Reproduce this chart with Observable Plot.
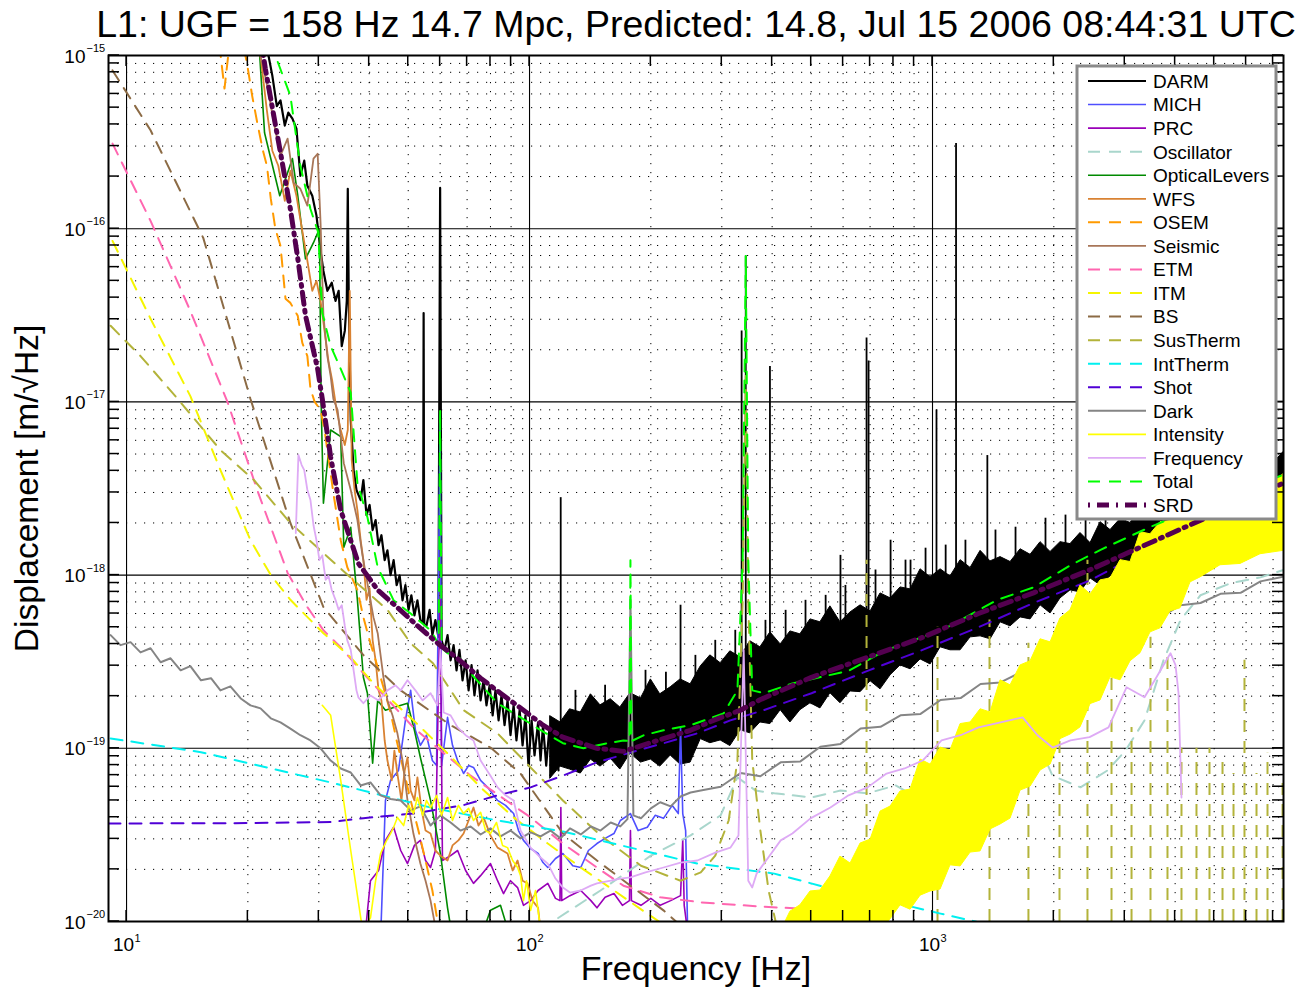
<!DOCTYPE html>
<html>
<head>
<meta charset="utf-8">
<script src="https://cdn.jsdelivr.net/npm/d3@7"></script>
<script src="https://cdn.jsdelivr.net/npm/@observablehq/plot@0.6"></script>
<style>
  html, body { margin: 0; padding: 0; background: #fff; }
  svg { display: block; }
</style>
</head>
<body>
<div id="chart"></div>
<script>
const FONT = "'Liberation Sans', Arial, Helvetica, sans-serif";

// ---- axes -------------------------------------------------------------
const X_DOMAIN = [9.02, 7430];
const Y_DOMAIN = [1e-20, 1e-15];
const X_MAJOR = [10, 100, 1000];
const X_MAJOR_EXP = ["1", "2", "3"];
const X_MINOR = [20, 30, 40, 50, 60, 70, 80, 90, 200, 300, 400, 500, 600, 700, 800, 900,
  2000, 3000, 4000, 5000, 6000, 7000];
const Y_MAJOR = [1e-20, 1e-19, 1e-18, 1e-17, 1e-16, 1e-15];
const Y_MAJOR_EXP = ["\u221220", "\u221219", "\u221218", "\u221217", "\u221216", "\u221215"];
const Y_MINOR = [
  2e-20, 3e-20, 4e-20, 5e-20, 6e-20, 7e-20, 8e-20, 9e-20,
  2e-19, 3e-19, 4e-19, 5e-19, 6e-19, 7e-19, 8e-19, 9e-19,
  2e-18, 3e-18, 4e-18, 5e-18, 6e-18, 7e-18, 8e-18, 9e-18,
  2e-17, 3e-17, 4e-17, 5e-17, 6e-17, 7e-17, 8e-17, 9e-17,
  2e-16, 3e-16, 4e-16, 5e-16, 6e-16, 7e-16, 8e-16, 9e-16];

const TITLE = "L1: UGF = 158 Hz 14.7 Mpc, Predicted: 14.8, Jul 15 2006 08:44:31 UTC";
const X_LABEL = "Frequency [Hz]";
const Y_LABEL = "Displacement [m/\u221AHz]";

const SERIES = ["DARM", "MICH", "PRC", "Oscillator", "OpticalLevers", "WFS", "OSEM", "Seismic",
  "ETM", "ITM", "BS", "SusTherm", "IntTherm", "Shot", "Dark", "Intensity", "Frequency", "Total", "SRD"];

// ---- spectra: [frequency Hz, displacement m/rtHz] ----------------------
// DARM below ~120 Hz as a trace
const DARM_LOW = [[22.2,1.2e-15],[22.5,1.0e-15],[23.0,7.65e-16],[23.6,5.1e-16],[24.1,5.5e-16],[24.7,3.94e-16],
  [25.2,4.68e-16],[25.8,4.32e-16],[26.4,3.78e-16],[27.0,2.02e-16],[27.6,2.47e-16],[28.1,1.77e-16],[28.9,1.55e-16],
  [29.6,1.19e-16],[30.3,7.45e-17],[30.8,5.7e-17],[31.5,4.38e-17],[32.3,4.88e-17],[33.0,3.83e-17],[33.6,4.38e-17],
  [34.2,2.1e-17],[34.8,2.57e-17],[35.2,3.83e-17],[35.4,1.7e-16],[35.6,3.83e-17],[36.0,7.86e-18],[36.6,4.04e-18],
  [37.2,3.1e-18],[38.1,2.71e-18],[38.7,3.54e-18],[39.4,2.22e-18],[40.1,2.54e-18],[40.8,1.82e-18],[41.5,2.08e-18],
  [42.2,1.49e-18],[42.9,1.7e-18],[43.7,1.22e-18],[44.4,1.39e-18],[45.2,1.0e-18],[46.0,1.22e-18],[46.8,8.75e-19],
  [47.6,9.95e-19],[48.4,7.15e-19],[49.2,8.75e-19],[50.1,6.3e-19],[50.9,7.65e-19],[51.8,5.85e-19],[52.7,7.15e-19],
  [53.6,5.5e-19],[54.4,5.3e-19],[54.6,3.26e-17],[54.8,5.2e-19],[55.5,5.1e-19],[56.5,6.3e-19],[57.4,4.5e-19],
  [58.4,5.5e-19],[59.4,4.4e-19],[60.0,1.72e-16],[60.5,4.2e-19],[61.5,3.7e-19],[62.6,4.5e-19],[63.7,3.22e-19],
  [64.8,3.94e-19],[65.9,2.82e-19],[67.0,3.7e-19],[68.2,2.47e-19],[69.4,3.22e-19],[70.6,2.16e-19],[71.8,3.02e-19],
  [73.0,2.02e-19],[74.3,2.82e-19],[75.6,1.89e-19],[76.9,2.47e-19],[78.2,1.77e-19],[79.6,2.31e-19],[81.0,1.55e-19],
  [82.3,2.16e-19],[83.8,1.45e-19],[85.2,2.02e-19],[86.7,1.36e-19],[88.2,1.89e-19],[89.7,1.19e-19],[91.3,1.77e-19],
  [92.8,1.11e-19],[94.5,1.66e-19],[96.1,1.04e-19],[97.7,1.55e-19],[99.4,7.95e-20],[101.2,1.45e-19],[102.9,9.1e-20],
  [105,1.41e-19],[106.5,8.5e-20],[108,1.36e-19],[110,7.95e-20],[112,1.3e-19],[114,8.5e-20],[116,1.27e-19],[118,7.45e-20]];
// DARM above ~110 Hz: [frequency, lower envelope, upper envelope]
const DARM_BAND = [[112.7,6.69e-20,1.53e-19],[119.4,7.84e-20,1.41e-19],[126,7.54e-20,1.68e-19],[134,7.15e-20,1.61e-19],
  [142,8.61e-20,2.05e-19],[150,7.84e-20,1.77e-19],[159,8.72e-20,1.92e-19],[168,7.54e-20,1.72e-19],[178,9.32e-20,2.08e-19],
  [189,8.27e-20,1.94e-19],[200,8.61e-20,2.5e-19],[211,7.84e-20,2.05e-19],[224,9.08e-20,2.25e-19],[237,8.05e-20,2.5e-19],
  [251,8.27e-20,2.34e-19],[266,1.13e-19,2.97e-19],[281,1.07e-19,3.44e-19],[298,1.11e-19,3.1e-19],[315,1.03e-19,3.63e-19],
  [334,1.27e-19,3.35e-19],[353,1.22e-19,4.15e-19],[374,1.41e-19,3.83e-19],[396,1.38e-19,4.67e-19],[420,1.66e-19,3.98e-19],
  [444,1.41e-19,4.73e-19],[470,1.66e-19,4.55e-19],[498,1.82e-19,5.55e-19],[527,1.7e-19,5.34e-19],[558,2.08e-19,6.6e-19],
  [591,1.82e-19,5.34e-19],[626,2.13e-19,6.09e-19],[663,2.11e-19,6.69e-19],[702,2.44e-19,6.17e-19],[743,2.19e-19,7.84e-19],
  [787,2.64e-19,7.34e-19],[833,3.01e-19,8.49e-19],[882,2.86e-19,8.27e-19],[934,3.26e-19,1.08e-18],[989,3.05e-19,9.7e-19],
  [1047,3.83e-19,1.08e-18],[1108,3.68e-19,9.83e-19],[1174,3.68e-19,1.22e-18],[1243,4.37e-19,1.1e-18],[1316,4.43e-19,1.38e-18],
  [1393,4.26e-19,1.2e-18],[1475,5.34e-19,1.27e-18],[1562,5.06e-19,1.19e-18],[1654,5.7e-19,1.41e-18],[1751,5.55e-19,1.31e-18],
  [1854,6.69e-19,1.55e-18],[1963,6.01e-19,1.36e-18],[2078,7.34e-19,1.55e-18],[2200,8.16e-19,1.51e-18],[2329,7.95e-19,1.75e-18],
  [2467,9.57e-19,1.53e-18],[2612,8.72e-19,2.02e-18],[2765,9.83e-19,1.82e-18],[2928,1.08e-18,2.11e-18],[3100,1.01e-18,2.0e-18],
  [3282,1.27e-18,2.44e-18],[3475,1.19e-18,2.4e-18],[3679,1.32e-18,2.78e-18],[3895,1.27e-18,2.54e-18],[4124,1.49e-18,2.9e-18],
  [4367,1.45e-18,2.71e-18],[4624,1.41e-18,3.49e-18],[4896,1.72e-18,3.14e-18],[5184,1.66e-18,3.54e-18],[5489,1.66e-18,3.31e-18],
  [5812,1.82e-18,3.98e-18],[6153,1.7e-18,3.73e-18],[6515,2.05e-18,4.26e-18],[6898,1.92e-18,4.26e-18],[7430,2.05e-18,5.13e-18]];
// DARM lines: [frequency, foot, peak]
const DARM_LINES = [[119.5,1.2e-19,2.8e-18],[237,2.0e-19,6.7e-19],[336,3.0e-19,2.57e-17],[344,3.0e-19,6.95e-17],
  [395,3.5e-19,1.6e-17],[591,5e-19,1.3e-18],[686,5.5e-19,2.34e-17],[694,5.5e-19,1.72e-17],[787,7e-19,1.59e-18],
  [882,8e-19,1.22e-18],[1023,9e-19,8.98e-18],[1144,1e-18,3.1e-16],[1368,1.1e-18,4.9e-18],
  [130,1.2e-19,2.16e-19],[154,1.4e-19,2.31e-19],[194,1.6e-19,2.82e-19],[218,1.7e-19,2.75e-19],[258,2.0e-19,3.44e-19],
  [289,2.4e-19,4.2e-19],[324,2.7e-19,4.8e-19],[385,3.0e-19,5.48e-19],[432,3.5e-19,6.26e-19],[484,3.9e-19,7.15e-19],
  [543,4.3e-19,7.64e-19],[608,4.8e-19,8.72e-19],[722,5.5e-19,1.07e-18],[857,6.5e-19,1.22e-18],[961,8e-19,1.43e-18],
  [1078,8.5e-19,1.49e-18],[1207,9e-19,1.59e-18],[1433,1.0e-18,1.82e-18],[1607,1.1e-18,1.89e-18],[1907,1.2e-18,2.13e-18],
  [2138,1.3e-18,2.22e-18],[2398,1.4e-18,2.54e-18],[2688,1.6e-18,2.78e-18]];

const MICH = [[42.7,8e-21],[43.9,5.0e-20],[45.2,6.53e-20],[47.3,7.45e-20],[49.2,1.45e-19],[50.7,2.16e-19],[52.1,1.27e-19],
  [53.6,1.04e-19],[55.5,1.19e-19],[57.4,8.5e-20],[58.8,7.95e-20],[60.0,8.4e-18],[60.5,7.95e-20],[62.6,1.51e-19],
  [64.4,1.04e-19],[66.3,8.5e-20],[68.6,7.15e-20],[70.6,7.95e-20],[72.6,7.75e-20],[75.6,6.53e-20],[78.7,5.95e-20],
  [83.3,5.0e-20],[87.2,4.68e-20],[91.3,4.2e-20],[93.9,3.35e-20],[96.6,2.94e-20],[100.6,2.64e-20],[105,2.47e-20],
  [108,2.19e-20],[111,2.05e-20],[116,2.31e-20],[121,2.47e-20],[128,2.1e-20],[134,2.05e-20],[140,2.57e-20],[147,2.82e-20],
  [154,3.02e-20],[162,3.22e-20],[168,3.83e-20],[178,4.2e-20],[186,3.35e-20],[196,3.5e-20],[205,4.1e-20],[215,3.94e-20],
  [226,4.68e-20],[234,4.2e-20],[237,1.32e-19],[240,4.2e-20],[244,3.35e-20],[247,8e-21]];

const PRC = [[39.2,9e-21],[40.3,1.72e-20],[42.2,1.97e-20],[43.9,2.94e-20],[46.0,3.5e-20],[47.9,2.57e-20],[49.8,2.16e-20],
  [51.8,2.75e-20],[53.6,2.94e-20],[55.2,2.25e-20],[56.8,2.05e-20],[58.4,2.57e-20],[60.0,7.2e-19],[60.8,2.25e-20],
  [63.7,2.4e-20],[66.3,2.57e-20],[69.4,1.97e-20],[72.6,1.66e-20],[75.6,1.84e-20],[80.0,2.16e-20],[83.3,1.72e-20],
  [86.2,1.45e-20],[89.7,1.72e-20],[93.4,1.57e-20],[96.6,1.24e-20],[100.6,1.32e-20],[105,1.51e-20],[111,1.66e-20],
  [116,1.36e-20],[119,1.32e-20],[119.6,4.55e-20],[120.2,1.32e-20],[126,1.41e-20],[134,1.51e-20],[142,1.32e-20],
  [147,1.2e-20],[154,1.38e-20],[162,1.45e-20],[170,1.24e-20],[177,1.32e-20],[178,3.35e-20],[179,1.32e-20],[189,1.24e-20],
  [200,1.36e-20],[211,1.24e-20],[224,1.32e-20],[237,1.41e-20],[240,2.94e-20],[242,1.24e-20],[248,8e-21]];

const OSCILLATOR = [[106.5,9e-21],[150,1.51e-20],[200,2.4e-20],[251,3.14e-20],[298,4.1e-20],[328,6.8e-20],[364,5.7e-20],
  [405,5.5e-20],[501,5.2e-20],[591,5.7e-20],[690,5.5e-20],[810,6.1e-20],[945,5.0e-20],[1108,6.53e-20],[1279,9.7e-20],
  [1544,1.45e-19],[1781,1.22e-19],[1985,6.95e-20],[2329,5.95e-20],[2718,7.45e-20],[3012,9.7e-20],[3358,1.45e-19],
  [3743,3.22e-19],[4124,5.5e-19],[4624,7.65e-19],[5489,8.98e-19],[6515,9.7e-19],[7430,1.07e-18]];

const OPTICAL_LEVERS = [[21.3,1.2e-15],[22.0,3.58e-16],[24.0,1.55e-16],[25.8,2.54e-16],[26.6,1.55e-16],[27.8,6.7e-17],
  [29.1,8.3e-17],[30.1,1.0e-16],[30.4,1.0e-17],[30.8,2.6e-18],[32.1,6.88e-18],[34.0,6.3e-18],[34.6,1.45e-18],[36.0,1.89e-18],
  [37.4,7.2e-19],[38.7,2.57e-19],[39.6,2.08e-19],[40.8,8.2e-20],[42.0,1.89e-19],[43.9,1.66e-19],[46.0,1.72e-19],
  [49.8,1.82e-19],[51.8,1.27e-19],[53.6,8.85e-20],[56.8,5.0e-20],[60.1,2.47e-20],[62.6,1.2e-20],[64.4,8e-21],
  [75.6,8e-21],[80.0,1.16e-20],[84.7,1.24e-20],[89.7,8e-21]];

const WFS = [[21.3,1.2e-15],[22.3,4.8e-16],[23.0,2.82e-16],[23.8,2.31e-16],[24.7,1.45e-16],[25.5,2.16e-16],[26.4,1.55e-16],
  [27.3,9.7e-17],[28.1,6.53e-17],[28.9,4.38e-17],[29.6,5.0e-17],[30.3,3.83e-17],[31.0,2.57e-17],[31.7,1.72e-17],
  [32.4,1.32e-17],[33.2,8.98e-18],[34.0,6.88e-18],[34.8,5.64e-18],[35.4,6.88e-18],[35.8,4.38e-17],[36.2,4.62e-18],
  [36.8,3.1e-18],[37.4,2.37e-18],[38.1,1.59e-18],[38.7,1.22e-18],[39.4,7.2e-19],[40.1,8.4e-19],[40.8,4.2e-19],
  [41.5,3.22e-19],[42.2,2.16e-19],[42.9,1.89e-19],[43.7,1.11e-19],[44.4,8.5e-20],[45.5,6.53e-20],[46.2,9.7e-20],
  [47.0,7.15e-20],[48.1,5.0e-20],[49.0,7.45e-20],[49.8,8.85e-20],[50.7,5.7e-20],[51.8,5.0e-20],[52.7,6.8e-20],
  [54.0,4.38e-20],[55.2,3.35e-20],[56.8,3.22e-20],[58.4,2.57e-20],[60.1,2.4e-20],[62.6,2.25e-20],[64.4,2.75e-20],
  [66.6,2.94e-20],[68.6,3.22e-20],[70.6,3.83e-20],[72.6,4.55e-20],[74.7,3.58e-20],[76.9,3.99e-20],[80.0,3.14e-20],
  [83.3,2.67e-20],[85.7,2.57e-20],[88.2,2.47e-20],[90.8,1.97e-20],[93.4,2.25e-20],[96.1,1.72e-20],[98.9,1.66e-20],
  [101.7,1.32e-20],[105,1.2e-20],[107,8e-21]];

const OSEM = [[17.0,1.15e-15],[17.5,6.44e-16],[18.0,1.15e-15],[19.5,1.15e-15],[20.0,8.4e-16],[20.5,5.85e-16],[21.1,4.1e-16],
  [21.8,2.82e-16],[22.3,2.31e-16],[22.8,1.49e-16],[23.4,1.0e-16],[24.1,7.95e-17],[24.8,3.94e-17],[25.5,3.73e-17],
  [26.6,3.14e-17],[27.3,2.19e-17],[28.1,1.84e-17],[28.6,1.19e-17],[29.3,1.0e-17],[30.3,8.98e-18],[31.0,6.88e-18],
  [31.5,5.27e-18],[32.6,2.98e-18],[34.0,1.59e-18],[35.3,1.11e-18],[37.4,8.2e-19],[38.7,5.7e-19],[40.3,4.04e-19],
  [42.0,2.94e-19],[43.4,2.25e-19],[45.2,1.61e-19],[46.8,1.11e-19],[48.4,7.95e-20],[50.7,5.0e-20],[53.0,3.35e-20],
  [55.2,2.25e-20],[57.4,1.51e-20],[60.1,8e-21]];

const SEISMIC = [[21.0,1.2e-15],[21.8,8.75e-16],[22.4,6.44e-16],[23.2,4.1e-16],[24.1,2.64e-16],[25.1,3.31e-16],[26.0,1.84e-16],
  [27.0,1.7e-16],[28.1,1.36e-16],[29.1,2.54e-16],[29.8,2.71e-16],[30.3,1.08e-16],[30.8,3.14e-17],[31.5,1.84e-17],
  [32.1,1.41e-17],[32.6,1.04e-17],[33.4,8.98e-18],[34.6,4.43e-18],[36.0,3.1e-18],[37.4,2.08e-18],[38.5,1.3e-18],
  [39.6,8.98e-19],[41.0,5.7e-19],[42.0,4.62e-19],[43.4,2.57e-19],[44.4,1.89e-19],[45.7,1.55e-19],[47.0,1.22e-19],
  [48.4,8.5e-20],[49.8,5.0e-20],[51.5,3.22e-20],[53.6,2.16e-20],[55.2,1.72e-20],[56.8,1.32e-20],[59.1,8e-21]];

const ETM = [[9.23,3.1e-16],[11.47,1.11e-16],[14.4,3.35e-17],[17.8,1.0e-17],[21.1,3.1e-18],[25.1,1.03e-18],[28.1,6.53e-19],
  [30.8,4.8e-19],[34.0,3.83e-19],[38.7,2.71e-19],[51.5,1.32e-19],[71.4,6.95e-20],[100.6,3.99e-20],[121,2.82e-20],
  [147,2.05e-20],[171,1.61e-20],[211,1.38e-20],[266,1.29e-20],[374,1.22e-20],[527,1.17e-20],[663,1.14e-20],[787,9e-21]];

const ITM = [[9.23,8.5e-17],[11.47,3.02e-17],[14.4,1.08e-17],[17.1,4.04e-18],[20.3,1.59e-18],[22.8,1.0e-18],[25.5,7.2e-19],
  [30.8,4.62e-19],[36.0,3.35e-19],[41.0,2.37e-19],[51.5,1.45e-19],[62.6,9.35e-20],[75.6,5.95e-20],[91.3,3.99e-20],
  [111,2.82e-20],[134,2.05e-20],[162,1.51e-20],[196,1.11e-20],[224,9e-21]];

const BS = [[9.23,8.2e-16],[11.47,3.7e-16],[15.5,8.85e-17],[20.3,1.04e-17],[25.5,2.0e-18],[30.8,6.53e-19],[38.7,3.45e-19],
  [47.9,2.16e-19],[63.7,1.36e-19],[80.0,1.01e-19],[95.0,7.15e-20],[121,3.22e-20],[147,2.25e-20],[178,1.61e-20],
  [215,1.16e-20],[231,1.0e-20],[244,9e-21]];

const SUSTHERM = [[9.13,2.75e-17],[10.83,1.84e-17],[13.4,1.04e-17],[17.1,5.27e-18],[20.7,3.54e-18],[25.5,2.0e-18],
  [30.8,1.34e-18],[36.6,9.35e-19],[44.4,6.3e-19],[50.7,4.04e-19],[57.6,3.1e-19],[68.6,1.66e-19],[83.3,1.22e-19],
  [100.6,7.75e-20],[121,5.0e-20],[150,3.14e-20],[189,2.1e-20],[237,1.72e-20],[266,1.92e-20],[289,2.4e-20],[312,3.83e-20],
  [328,8.5e-20],[338,7.2e-19],[344,1.41e-17],[349,7.2e-19],[357,8.5e-20],[374,3.35e-20],[392,1.51e-20],[408,1.0e-20],
  [420,5e-21]];
// violin-mode resonances of the suspension thermal noise: [frequency, peak]
const SUSTHERM_LINES = [[686,1.22e-18],[1029,5.0e-19],[1385,5.5e-19],[1730,4.04e-19],[2066,3.54e-19],[2424,1.22e-18],
  [2781,3.54e-19],[3118,1.32e-19],[3475,4.37e-19],[3829,3.54e-19],[4148,1.0e-19],[4519,1.0e-19],[4868,1.0e-19],
  [5244,8.5e-20],[5584,7.15e-20],[5945,3.22e-19],[6368,7.15e-20],[6781,9.35e-20],[7390,6.53e-20]];

const INTTHERM = [[9.13,1.14e-19],[15.3,9.5e-20],[32.1,6.35e-20],[56.8,4.55e-20],[83.3,3.83e-20],[121,3.31e-20],
  [178,2.67e-20],[261,2.16e-20],[405,1.89e-20],[558,1.55e-20],[769,1.32e-20],[1047,1.11e-20],[1279,1.0e-20],[1475,9e-21]];

const SHOT = [[9.02,3.68e-20],[20,3.7e-20],[32.1,3.75e-20],[38.7,3.95e-20],[51.5,4.2e-20],[68.6,4.7e-20],[83.3,5.35e-20],
  [100.6,5.95e-20],[121,6.95e-20],[147,8.3e-20],[178,9.45e-20],[215,1.07e-19],[261,1.22e-19],[315,1.45e-19],[381,1.66e-19],
  [501,2.08e-19],[690,2.8e-19],[945,3.7e-19],[1301,5.0e-19],[1781,6.9e-19],[2453,9.3e-19],[3065,1.22e-18],[7430,2.82e-18]];

const DARK = [[9.13,4.5e-19],[9.66,3.94e-19],[10.23,4.1e-19],[10.83,3.58e-19],[11.47,3.78e-19],[12.15,3.14e-19],
  [12.86,3.31e-19],[13.62,2.82e-19],[14.4,2.98e-19],[15.3,2.47e-19],[16.2,2.54e-19],[17.1,2.16e-19],[18.1,2.28e-19],
  [19.2,1.94e-19],[20.3,1.77e-19],[21.5,1.70e-19],[22.8,1.49e-19],[24.1,1.41e-19],[25.5,1.30e-19],[27.0,1.19e-19],
  [28.6,1.11e-19],[30.3,1.0e-19],[32.1,8.5e-20],[34.0,7.65e-20],[36.0,7.25e-20],[38.1,6.1e-20],[40.3,6.35e-20],
  [42.7,5.35e-20],[45.2,5.1e-20],[47.9,5.0e-20],[50.7,4.38e-20],[53.6,4.62e-20],[56.8,3.58e-20],[60.1,4.1e-20],
  [63.7,3.73e-20],[67.4,3.35e-20],[71.4,3.54e-20],[75.6,3.18e-20],[80.0,3.45e-20],[84.7,3.10e-20],[89.7,3.35e-20],
  [95.0,3.02e-20],[100.6,3.27e-20],[106.5,3.10e-20],[112.7,3.35e-20],[119.4,3.02e-20],[126,3.45e-20],[134,3.18e-20],
  [142,3.54e-20],[150,3.35e-20],[159,3.73e-20],[168,3.54e-20],[175,3.9e-20],[178,7.2e-19],[181,4.1e-20],[189,3.94e-20],
  [200,4.5e-20],[211,4.88e-20],[224,4.62e-20],[237,5.27e-20],[251,5.56e-20],[266,5.7e-20],[298,6.0e-20],[334,7.2e-20],
  [374,6.9e-20],[420,8.3e-20],[470,8.4e-20],[527,1.02e-19],[591,1.06e-19],[663,1.3e-19],[743,1.33e-19],[833,1.55e-19],
  [934,1.58e-19],[1047,1.9e-19],[1174,1.95e-19],[1316,2.35e-19],[1475,2.4e-19],[1654,2.75e-19],[1854,2.8e-19],
  [2078,3.35e-19],[2329,3.5e-19],[2612,4.35e-19],[2928,4.6e-19],[3282,5.4e-19],[3679,5.7e-19],[4124,6.7e-19],
  [4624,6.9e-19],[5184,7.8e-19],[5812,7.9e-19],[6515,9.2e-19],[7430,9.8e-19]];

const INTENSITY = [[30.6,1.77e-19],[32.1,1.55e-19],[34.0,6.53e-20],[36.0,2.57e-20],[38.5,9e-21],[40.3,1.05e-20],
  [41.5,1.72e-20],[42.7,2.47e-20],[44.2,2.94e-20],[45.2,3.22e-20],[46.0,3.5e-20],[47.0,3.99e-20],[48.7,3.58e-20],
  [50.1,4.68e-20],[51.5,4.2e-20],[52.7,5.2e-20],[54.3,4.1e-20],[55.5,5.0e-20],[56.8,4.55e-20],[58.8,5.35e-20],
  [60.5,4.1e-20],[62.6,5.2e-20],[64.4,3.83e-20],[66.6,4.68e-20],[68.6,4.2e-20],[70.6,4.5e-20],[72.6,3.83e-20],
  [75.6,4.27e-20],[77.8,3.35e-20],[80.0,3.22e-20],[82.8,3.73e-20],[85.7,2.75e-20],[88.2,2.67e-20],[90.8,2.25e-20],
  [93.4,2.05e-20],[95.0,1.84e-20],[96.6,1.32e-20],[98.3,1.72e-20],[100.6,1.16e-20],[103.5,1.51e-20],[106.5,9e-21]];
// intensity noise above ~400 Hz: [frequency, lower envelope, upper envelope]
const INTENSITY_BAND = [[432,9e-21,1.0e-20],[444,9e-21,1.14e-20],[470,9e-21,1.24e-20],[498,9e-21,1.49e-20],
  [527,9e-21,1.51e-20],[558,9e-21,1.82e-20],[591,9e-21,2.37e-20],[626,9e-21,2.16e-20],[663,9e-21,2.82e-20],
  [702,9e-21,2.97e-20],[743,9e-21,4.31e-20],[787,1.03e-20,4.61e-20],[833,1.24e-20,5.63e-20],[882,1.17e-20,5.78e-20],
  [934,1.41e-20,8.61e-20],[989,1.49e-20,8.05e-20],[1047,1.53e-20,1.01e-19],[1108,2.11e-20,9.7e-20],[1174,2.08e-20,1.38e-19],
  [1243,2.5e-20,1.41e-19],[1316,2.54e-20,1.68e-19],[1393,3.4e-20,1.61e-19],[1475,3.63e-20,2.47e-19],[1562,3.93e-20,2.31e-19],
  [1654,5.7e-20,3.01e-19],[1751,6.01e-20,3.18e-19],[1854,7.44e-20,4.26e-19],[1963,8.05e-20,4.09e-19],[2078,1.13e-19,5.63e-19],
  [2200,1.2e-19,6.26e-19],[2329,1.32e-19,8.72e-19],[2467,1.8e-19,7.74e-19],[2612,1.89e-19,9.32e-19],[2765,2.57e-19,9.57e-19],
  [2928,2.47e-19,1.22e-18],[3100,3.18e-19,1.19e-18],[3282,3.54e-19,1.77e-18],[3475,4.67e-19,1.72e-18],[3679,4.93e-19,2.02e-18],
  [3895,6.17e-19,2.05e-18],[4124,6.43e-19,2.5e-18],[4367,9.08e-19,2.37e-18],[4624,9.7e-19,2.67e-18],[5184,1.14e-18,2.54e-18],
  [5812,1.16e-18,3.1e-18],[6515,1.32e-18,2.9e-18],[7430,1.38e-18,3.83e-18]];

const FREQUENCY = [[26.3,1.75e-18],[26.7,4.94e-18],[27.2,4.32e-18],[27.6,4.04e-18],[28.1,3.1e-18],[28.6,2.71e-18],
  [29.1,1.94e-18],[29.6,1.59e-18],[30.1,1.22e-18],[30.6,1.3e-18],[31.2,9.4e-19],[31.7,9.9e-19],[32.3,8.2e-19],[33.0,7.2e-19],
  [33.6,6.3e-19],[34.2,6.7e-19],[34.8,5.1e-19],[35.3,4.2e-19],[36.0,3.7e-19],[36.6,2.82e-19],[37.2,2.16e-19],[37.6,1.97e-19],
  [38.7,1.82e-19],[40.3,2.02e-19],[42.2,1.89e-19],[44.4,2.16e-19],[46.5,2.31e-19],[47.9,2.16e-19],[49.8,2.47e-19],
  [52.1,2.16e-19],[54.3,1.89e-19],[56.8,2.08e-19],[59.1,1.77e-19],[60.1,3.7e-19],[61.2,1.61e-19],[63.7,1.55e-19],
  [66.3,1.32e-19],[69.4,1.19e-19],[72.6,1.11e-19],[75.6,8.5e-20],[80.0,6.95e-20],[83.3,5.95e-20],[87.2,5.35e-20],
  [91.3,5.0e-20],[95.0,3.35e-20],[100.6,2.67e-20],[106.5,2.34e-20],[111,2.16e-20],[116,1.77e-20],[121,1.57e-20],
  [126,1.47e-20],[134,1.51e-20],[142,1.61e-20],[147,1.66e-20],[159,1.72e-20],[168,1.77e-20],[178,1.8e-20],[194,1.92e-20],
  [215,2.05e-20],[237,2.19e-20],[261,2.25e-20],[289,2.5e-20],[315,2.67e-20],[330,3.14e-20],[340,3.7e-19],[349,1.72e-20],
  [357,1.57e-20],[366,1.89e-20],[420,2.94e-20],[449,3.22e-20],[498,3.94e-20],[558,4.55e-20],[619,5.35e-20],[690,5.95e-20],
  [769,7.15e-20],[852,7.65e-20],[945,8.5e-20],[1053,1.11e-19],[1174,1.19e-19],[1301,1.32e-19],[1475,1.41e-19],
  [1673,1.51e-19],[1822,1.19e-19],[1985,1.01e-19],[2200,1.11e-19],[2453,1.16e-19],[2734,1.32e-19],[3030,2.25e-19],
  [3358,1.97e-19],[3595,2.57e-19],[3895,3.54e-19],[4009,3.02e-19],[4078,2.08e-19],[4148,5.2e-20]];

const TOTAL = [[23.0,1.2e-15],[23.4,1.0e-15],[25.5,5.85e-16],[27.0,2.3e-16],[28.6,1.3e-16],[29.9,9.5e-17],[30.6,3.26e-17],
  [32.1,2.1e-17],[34.0,1.55e-17],[36.0,1.13e-17],[37.4,3.4e-18],[39.6,2.16e-18],[42.0,1.11e-18],[46.0,7.15e-19],
  [50.7,6.0e-19],[56.8,4.8e-19],[59.5,4.0e-19],[60.0,9e-18],[60.5,3.8e-19],[62.6,3.54e-19],[66.3,3.45e-19],[71.4,2.71e-19],
  [83.3,1.82e-19],[95.0,1.51e-19],[105,1.3e-19],[121,1.07e-19],[136,1.0e-19],[156,1.07e-19],[171,1.11e-19],[177,1.1e-19],
  [178,1.22e-18],[179,1.1e-19],[192,1.19e-19],[215,1.27e-19],[251,1.36e-19],[303,1.59e-19],[328,2.16e-19],[338,1.22e-18],
  [344,6.95e-17],[349,1.22e-18],[357,2.16e-19],[381,2.08e-19],[449,2.37e-19],[619,2.8e-19],[769,3.7e-19],[1053,4.8e-19],
  [1450,7.2e-19],[1781,8.5e-19],[2200,1.14e-18],[2612,1.4e-18],[3475,1.9e-18],[4624,2.5e-18],[7430,3.8e-18]];

const SRD = [[21.5,1.3e-15],[22.1,8.4e-16],[23.4,4.0e-16],[24.1,2.75e-16],[25.5,1.3e-16],[26.7,6.35e-17],[27.8,3.15e-17],
  [29.8,1.55e-17],[30.6,1.04e-17],[32.1,4.8e-18],[34.0,2.37e-18],[37.6,1.17e-18],[42.0,8.2e-19],[47.0,6.5e-19],
  [52.7,5.1e-19],[59.5,4.0e-19],[66.3,3.3e-19],[75.6,2.54e-19],[84.7,2.08e-19],[96.6,1.66e-19],[108,1.36e-19],
  [121,1.16e-19],[147,1.0e-19],[171,9.6e-20],[208,1.11e-19],[251,1.27e-19],[286,1.45e-19],[334,1.66e-19],[372,1.9e-19],
  [501,2.57e-19],[690,3.35e-19],[945,4.37e-19],[1301,6.0e-19],[1781,7.9e-19],[2453,1.07e-18],[7430,3.4e-18]];

// ---- styles -----------------------------------------------------------
const DASH = "12,9";
const styles = {
  DARM:          {stroke: "#000000", width: 2.2},
  MICH:          {stroke: "#4f4fff", width: 1.6},
  PRC:           {stroke: "#9a00b8", width: 1.6},
  Oscillator:    {stroke: "#a9d6cc", width: 2, dash: DASH},
  OpticalLevers: {stroke: "#008a00", width: 1.6},
  WFS:           {stroke: "#d98232", width: 1.8},
  OSEM:          {stroke: "#ff9a00", width: 2, dash: DASH},
  Seismic:       {stroke: "#a87658", width: 1.8},
  ETM:           {stroke: "#ff66b0", width: 2, dash: DASH},
  ITM:           {stroke: "#f5f500", width: 2, dash: DASH},
  BS:            {stroke: "#8c6b45", width: 2, dash: DASH},
  SusTherm:      {stroke: "#b3b33a", width: 2, dash: DASH},
  IntTherm:      {stroke: "#00f0f0", width: 2, dash: DASH},
  Shot:          {stroke: "#5000d6", width: 2, dash: DASH},
  Dark:          {stroke: "#858585", width: 2},
  Intensity:     {stroke: "#ffff00", width: 1.6},
  Frequency:     {stroke: "#deaaf5", width: 1.8},
  Total:         {stroke: "#00ff00", width: 2, dash: DASH},
  SRD:           {stroke: "#540050", width: 5, dash: "12,6,2,6", legendDash: "2,7,12,7"}
};

const curve = (data, name) => Plot.line(data, {
  x: d => d[0], y: d => d[1],
  stroke: styles[name].stroke, strokeWidth: styles[name].width,
  strokeDasharray: styles[name].dash, strokeLinejoin: "round", clip: true
});

const plot = Plot.plot({
  width: 1313,
  height: 988,
  marginLeft: 108,
  marginRight: 30,
  marginTop: 55,
  marginBottom: 67,
  style: {fontFamily: FONT, background: "#fff", color: "#000"},
  x: {type: "log", domain: X_DOMAIN, axis: null},
  y: {type: "log", domain: Y_DOMAIN, axis: null},
  marks: [
    // grid
    Plot.ruleY(Y_MINOR, {stroke: "#000", strokeWidth: 1, strokeDasharray: "1.2,7.8"}),
    Plot.ruleX(X_MINOR, {stroke: "#000", strokeWidth: 1, strokeDasharray: "1.2,7.8"}),
    Plot.ruleY(Y_MAJOR, {stroke: "#000", strokeWidth: 1.1}),
    Plot.ruleX(X_MAJOR, {stroke: "#000", strokeWidth: 1.1}),

    // DARM
    Plot.areaY(DARM_BAND, {x: d => d[0], y1: d => d[1], y2: d => d[2], fill: "#000", stroke: "#000",
      strokeWidth: 1, clip: true}),
    curve(DARM_LOW, "DARM"),
    Plot.ruleX(DARM_LINES, {x: d => d[0], y1: d => d[1], y2: d => d[2], stroke: "#000", strokeWidth: 1.8, clip: true}),

    curve(MICH, "MICH"),
    curve(PRC, "PRC"),
    curve(OSCILLATOR, "Oscillator"),
    curve(OPTICAL_LEVERS, "OpticalLevers"),
    curve(WFS, "WFS"),
    curve(OSEM, "OSEM"),
    curve(SEISMIC, "Seismic"),
    curve(ETM, "ETM"),
    curve(ITM, "ITM"),
    curve(BS, "BS"),
    curve(SUSTHERM, "SusTherm"),
    Plot.ruleX(SUSTHERM_LINES, {x: d => d[0], y1: () => Y_DOMAIN[0], y2: d => d[1],
      stroke: styles.SusTherm.stroke, strokeWidth: 2, strokeDasharray: DASH, clip: true}),
    curve(INTTHERM, "IntTherm"),
    curve(SHOT, "Shot"),
    curve(DARK, "Dark"),
    curve(INTENSITY, "Intensity"),
    Plot.areaY(INTENSITY_BAND, {x: d => d[0], y1: d => d[1], y2: d => d[2], fill: styles.Intensity.stroke,
      stroke: styles.Intensity.stroke, strokeWidth: 1, clip: true}),
    curve(FREQUENCY, "Frequency"),
    curve(TOTAL, "Total"),
    curve(SRD, "SRD"),

    Plot.frame({stroke: "#000", strokeWidth: 2}),

    // tick labels: 10 with a raised exponent
    Plot.text(X_MAJOR, {x: d => d, text: () => "10", frameAnchor: "bottom", lineAnchor: "middle", dy: 23, dx: -3,
      fontSize: 19, fontFamily: FONT, textAnchor: "middle"}),
    Plot.text(X_MAJOR, {x: d => d, text: (d, i) => X_MAJOR_EXP[i], frameAnchor: "bottom", lineAnchor: "middle",
      dy: 17, dx: 8, fontSize: 11, fontFamily: FONT, textAnchor: "start"}),
    Plot.text(Y_MAJOR, {y: d => d, text: () => "10", frameAnchor: "left", lineAnchor: "middle", dx: -23, dy: 1,
      fontSize: 19, fontFamily: FONT, textAnchor: "end"}),
    Plot.text(Y_MAJOR, {y: d => d, text: (d, i) => Y_MAJOR_EXP[i], frameAnchor: "left", lineAnchor: "middle",
      dx: -22, dy: -7, fontSize: 11, fontFamily: FONT, textAnchor: "start"}),

    // title and axis labels
    Plot.text([TITLE], {text: d => d, frameAnchor: "top", lineAnchor: "middle", textAnchor: "middle", dy: -31,
      fontSize: 37.5, fontFamily: FONT}),
    Plot.text([X_LABEL], {text: d => d, frameAnchor: "bottom", lineAnchor: "middle", textAnchor: "middle", dy: 48,
      fontSize: 34, fontFamily: FONT}),
    Plot.text([Y_LABEL], {text: d => d, frameAnchor: "left", lineAnchor: "middle", textAnchor: "middle", rotate: -90,
      dx: -81, fontSize: 33.5, fontFamily: FONT})
  ]
});

document.getElementById("chart").append(plot);

// ---- inward tick marks on all four sides --------------------------------
const xScale = plot.scale("x"), yScale = plot.scale("y");
const px = v => xScale.apply(v), py = v => yScale.apply(v);
const frameL = px(X_DOMAIN[0]), frameR = px(X_DOMAIN[1]);
const frameB = py(Y_DOMAIN[0]), frameT = py(Y_DOMAIN[1]);
const TICK = 11;
const svgSel = d3.select(plot);
const tickGroup = svgSel.append("g").attr("stroke", "#000").attr("stroke-width", 1.5);
for (const v of [...Y_MAJOR, ...Y_MINOR]) {
  const y = py(v);
  tickGroup.append("line").attr("x1", frameL).attr("x2", frameL + TICK).attr("y1", y).attr("y2", y);
  tickGroup.append("line").attr("x1", frameR - TICK).attr("x2", frameR).attr("y1", y).attr("y2", y);
}
for (const v of [...X_MAJOR, ...X_MINOR]) {
  const x = px(v);
  tickGroup.append("line").attr("x1", x).attr("x2", x).attr("y1", frameB).attr("y2", frameB - TICK);
  tickGroup.append("line").attr("x1", x).attr("x2", x).attr("y1", frameT).attr("y2", frameT + TICK);
}

// ---- legend -------------------------------------------------------------
const legendGroup = svgSel.append("g").attr("font-family", FONT).attr("font-size", 19)
  .attr("text-anchor", "start");
legendGroup.append("rect")
  .attr("x", 1077).attr("y", 66).attr("width", 199).attr("height", 453)
  .attr("fill", "#fff").attr("stroke", "#8a8a8a").attr("stroke-width", 3);
SERIES.forEach((name, i) => {
  const s = styles[name];
  const y = 81 + i * 23.56;
  legendGroup.append("line")
    .attr("x1", 1088).attr("x2", 1146).attr("y1", y).attr("y2", y)
    .attr("stroke", s.stroke)
    .attr("stroke-width", name === "SRD" ? 5 : Math.min(2, Math.max(1.6, s.width)))
    .attr("stroke-dasharray", s.legendDash || s.dash || null);
  legendGroup.append("text")
    .attr("x", 1153).attr("y", y).attr("dy", "0.36em")
    .attr("text-anchor", "start")
    .attr("fill", "#000")
    .text(name);
});
</script>
</body>
</html>
